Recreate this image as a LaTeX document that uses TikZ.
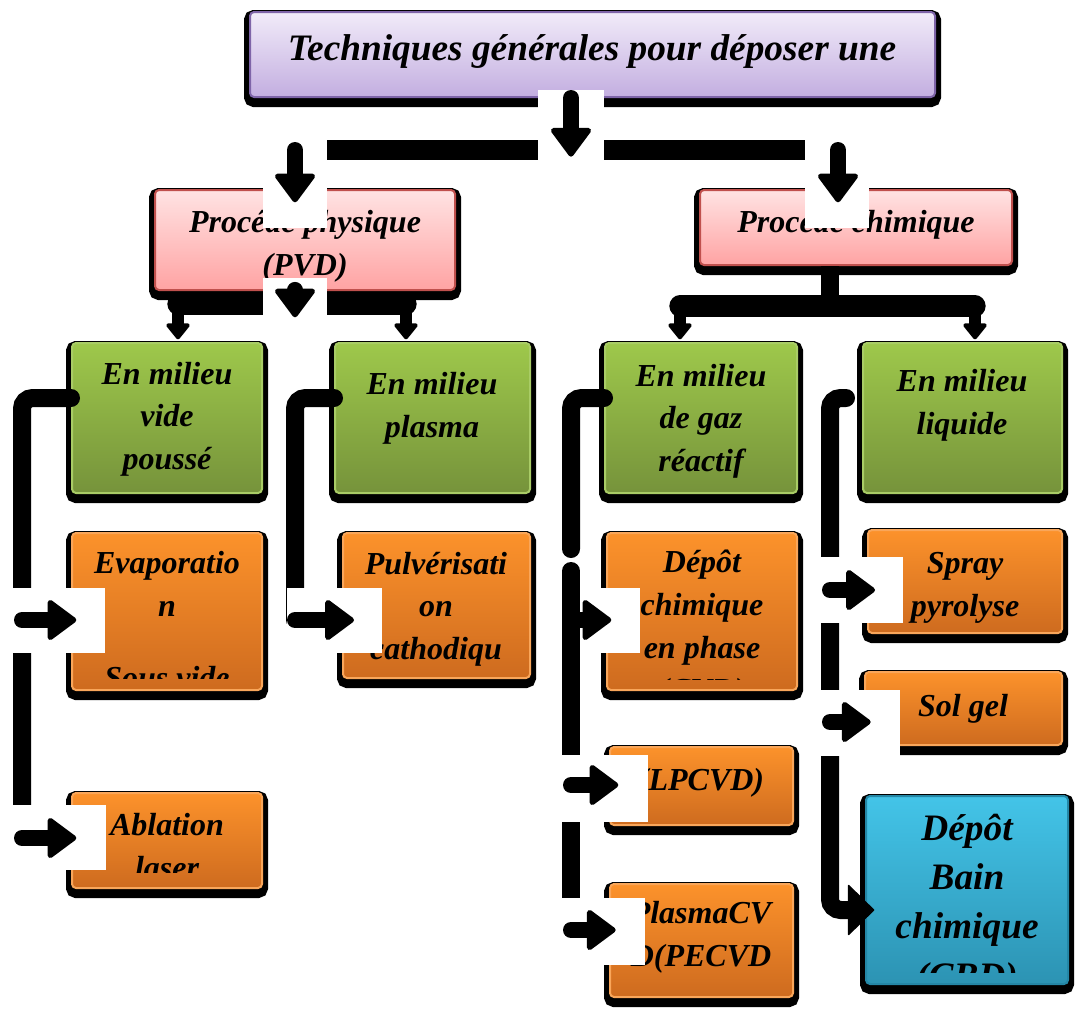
\documentclass[tikz,border=0pt]{standalone}
\usepackage{fontspec}
\setmainfont{Liberation Serif}
\usetikzlibrary{arrows.meta}

\definecolor{titletop}{HTML}{F1EBF9}
\definecolor{titlebot}{HTML}{C3AEE0}
\definecolor{titleline}{HTML}{7E64A8}
\definecolor{pinktop}{HTML}{FFE3E3}
\definecolor{pinkbot}{HTML}{FFA3A3}
\definecolor{pinkline}{HTML}{C0504D}
\definecolor{greentop}{HTML}{9EC84B}
\definecolor{greenbot}{HTML}{76933B}
\definecolor{greenline}{HTML}{A9CC66}
\definecolor{orangetop}{HTML}{FC922B}
\definecolor{orangebot}{HTML}{CE6B1F}
\definecolor{orangeline}{HTML}{F9A65A}
\definecolor{bluetop}{HTML}{43C4E8}
\definecolor{bluebot}{HTML}{2C93B3}
\definecolor{blueline}{HTML}{2487A6}

\tikzset{
  box/.style={rectangle, rounded corners=3pt, line width=1.5pt, inner sep=0pt,
    preaction={draw=black, line width=9pt, transform canvas={yshift=-3pt}}},
  titlebox/.style={box, draw=titleline, top color=titletop, bottom color=titlebot},
  pinkbox/.style={box, draw=pinkline, top color=pinktop, bottom color=pinkbot},
  greenbox/.style={box, draw=greenline, top color=greentop, bottom color=greenbot},
  orangebox/.style={box, draw=orangeline, top color=orangetop, bottom color=orangebot},
  bluebox/.style={box, draw=blueline, top color=bluetop, bottom color=bluebot},
  txt/.style={align=center, inner sep=0pt, font=\fontsize{24}{32}\selectfont\bfseries\itshape},
  bar/.style={line width=13.5pt},
  patch/.style={fill=white},
  fat/.style={line width=12pt, line cap=round, -{Triangle[width=33pt, length=23pt, line width=4pt, round]}},
  tiny/.style={line width=9pt, -{Triangle[width=20pt, length=13pt, line width=3pt, round]}},
  big/.style={-{Triangle[width=39pt, length=20pt, line width=1pt, round]}},
}

\begin{document}
\begin{tikzpicture}[x=0.75pt, y=-0.75pt]
  \useasboundingbox (0,0) rectangle (1079,1008);

  \node[titlebox, minimum width=513.75pt, minimum height=63.75pt] (title) at (592.5,54.5) {};
  \node[pinkbox, minimum width=225pt, minimum height=75pt] (pvd) at (305,240) {};
  \node[pinkbox, minimum width=234pt, minimum height=56.25pt] (chim) at (856,227.5) {};
  \node[greenbox, minimum width=142.5pt, minimum height=112.5pt] (g1) at (167,418) {};
  \node[greenbox, minimum width=146.25pt, minimum height=112.5pt] (g2) at (432.5,418) {};
  \node[greenbox, minimum width=144pt, minimum height=112.5pt] (g3) at (701,418) {};
  \node[greenbox, minimum width=149.25pt, minimum height=112.5pt] (g4) at (962.5,418) {};
  \node[orangebox, minimum width=142.5pt, minimum height=117.75pt] (o1) at (167,611.5) {};
  \node[orangebox, minimum width=140.25pt, minimum height=108.75pt] (o2) at (436.5,605.5) {};
  \node[orangebox, minimum width=142.5pt, minimum height=117.75pt] (o3) at (702,611.5) {};
  \node[orangebox, minimum width=145.5pt, minimum height=77.25pt] (o4) at (965,581.5) {};
  \node[orangebox, minimum width=147.75pt, minimum height=54.75pt] (o5) at (963.5,708.5) {};
  \node[orangebox, minimum width=137.25pt, minimum height=58.5pt] (o6) at (701.5,786) {};
  \node[orangebox, minimum width=137.25pt, minimum height=84.75pt] (o7) at (701.5,940.5) {};
  \node[orangebox, minimum width=142.5pt, minimum height=71.25pt] (o8) at (167,840.5) {};
  \node[bluebox, minimum width=151.5pt, minimum height=141pt] (cbd) at (967,890) {};

  \node[txt, font=\fontsize{28}{34}\selectfont\bfseries\itshape] (t0) at (592,51) {Techniques générales pour déposer une};
  \node[txt] (tpvd) at (305,246) {Procédé physique\\(PVD)};
  \node[txt] (tchim) at (856,225) {Procédé chimique};
  \node[txt] (tg1) at (167,419) {En milieu\\vide\\poussé};
  \node[txt] (tg2) at (432,408) {En milieu\\plasma};
  \node[txt] (tg3) at (701,421) {En milieu\\de gaz\\réactif};
  \node[txt] (tg4) at (962,405) {En milieu\\liquide};
  \begin{scope}
    \clip (72,533) rectangle (262,678);
    \node[txt] (to1) at (167,620) {Evaporatio\\n\\[22pt]Sous vide};
  \end{scope}
  \node[txt] (to2) at (436,609) {Pulvérisati\\on\\cathodiqu};
  \begin{scope}
    \clip (607,533) rectangle (797,679);
    \node[txt] (to3) at (702,629) {Dépôt\\chimique\\en phase\\(CVD)};
  \end{scope}
  \node[txt] (to4) at (965,588) {Spray\\pyrolyse};
  \node[txt] (to5) at (963,709) {Sol gel};
  \node[txt] (to6) at (701,783) {(LPCVD)};
  \node[txt] (to7) at (701,937) {PlasmaCV\\D(PECVD};
  \begin{scope}
    \clip (72,793) rectangle (263,872);
    \node[txt] (to8) at (167,846) {Ablation\\laser};
  \end{scope}
  \begin{scope}
    \clip (866,796) rectangle (1068,972);
    \node[txt, font=\fontsize{28}{37}\selectfont\bfseries\itshape] (tcbd) at (967,905) {Dépôt\\Bain\\chimique\\(CBD)};
  \end{scope}

  \coordinate (tb) at (571,150);
  \coordinate (tbl) at (295,150);
  \coordinate (tbr) at (838,150);
  \coordinate (pb) at (295,304);
  \coordinate (pbl) at (178,304);
  \coordinate (pbr) at (406,304);
  \coordinate (cb) at (830,306);
  \coordinate (cbl) at (680,306);
  \coordinate (cbr) at (975,306);
  \coordinate (c1t) at (22,398);
  \coordinate (c1a) at (22,620);
  \coordinate (c1b) at (22,838);
  \coordinate (c2t) at (295,398);
  \coordinate (c2a) at (295,620);
  \coordinate (c3t) at (571,398);
  \coordinate (c3m) at (571,549);
  \coordinate (c3n) at (571,571);
  \coordinate (c3a) at (571,620);
  \coordinate (c3b) at (571,785);
  \coordinate (c3c) at (571,930);
  \coordinate (c4s) at (846,398);
  \coordinate (c4t) at (830,398);
  \coordinate (c4a) at (830,590);
  \coordinate (c4b) at (830,722);
  \coordinate (c4c) at (830,910);

  \draw[tiny, shorten >=2pt] (pbl) -- (pbl |- g1.north);
  \draw[tiny, shorten >=2pt] (pbr) -- (pbr |- g2.north);
  \draw[tiny, shorten >=2pt] (cbl) -- (cbl |- g3.north);
  \draw[tiny, shorten >=2pt] (cbr) -- (cbr |- g4.north);

  \draw[bar, line width=15pt] (tbl) -- (tbr);
  \draw[bar, line width=16pt, line cap=round] (pbl) -- (pbr);
  \draw[bar, line width=14pt] (chim.south -| cb) -- (cb);
  \draw[bar, line width=16pt, line cap=round] (cbl) -- (cbr);
  \draw[bar, line cap=round, rounded corners=8pt] (c1t -| g1.west) -- (c1t) -- (c1b);
  \draw[bar, line cap=round, rounded corners=8pt] (c2t -| g2.west) -- (c2t) -- (c2a);
  \draw[bar, line cap=round, rounded corners=8pt] (c3t -| g3.west) -- (c3t) -- (c3m);
  \draw[bar, line cap=round] (c3n) -- (c3c);
  \draw[bar, big, line cap=round, rounded corners=8pt, shorten >=-7pt] (c4s) -- (c4t) -- (c4c) -- (c4c -| cbd.west);

  \fill[patch] (538,90) rectangle (604,160);
  \fill[patch] (263,140) rectangle (327,228);
  \fill[patch] (805,140) rectangle (869,228);
  \fill[patch] (263,278) rectangle (327,322);
  \fill[patch] (13,588) rectangle (105,653);
  \fill[patch] (13,805) rectangle (106,870);
  \fill[patch] (287,588) rectangle (382,653);
  \fill[patch] (582,588) rectangle (640,653);
  \fill[patch] (562,755) rectangle (648,822);
  \fill[patch] (562,898) rectangle (645,965);
  \fill[patch] (820,557) rectangle (903,623);
  \fill[patch] (820,690) rectangle (900,756);

  \draw[fat, shorten >=-5pt] (tb |- title.south) -- (tb);
  \draw[fat, shorten >=-10pt] (tbl) -- (tbl |- pvd.north);
  \draw[fat, shorten >=-10pt] (tbr) -- (tbr |- chim.north);
  \draw[fat, shorten >=-10pt] (pvd.south -| pb) -- (pb);
  \draw[fat, shorten >=-4pt] (c1a) -- (c1a -| o1.west);
  \draw[fat, shorten >=-4pt] (c1b) -- (c1b -| o8.west);
  \draw[fat, shorten >=-9pt] (c2a) -- (c2a -| o2.west);
  \draw[fat, shorten >=-4pt] (c3a) -- (c3a -| o3.west);
  \draw[fat, shorten >=-7pt] (c3b) -- (c3b -| o6.west);
  \draw[fat, shorten >=-5pt] (c3c) -- (c3c -| o7.west);
  \draw[fat, shorten >=-6pt] (c4a) -- (c4a -| o4.west);
  \draw[fat, shorten >=-5pt] (c4b) -- (c4b -| o5.west);
\end{tikzpicture}
\end{document}
